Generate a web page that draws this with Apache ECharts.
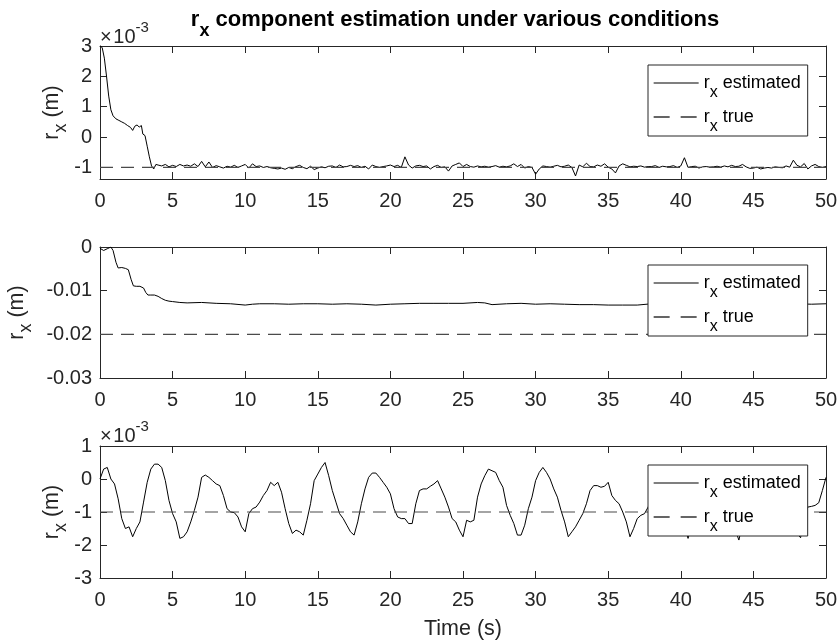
<!DOCTYPE html>
<html><head><meta charset="utf-8">
<script src="https://cdn.jsdelivr.net/npm/echarts@6/dist/echarts.min.js"></script>
<style>html,body{margin:0;padding:0;background:#fff}#c{width:838px;height:643px}</style>
</head><body><div id="c"></div>
<script>
// ---------- data ----------
const xTickLabels = [0, 5, 10, 15, 20, 25, 30, 35, 40, 45, 50];
const topYTicks = [3, 2, 1, 0, -1];          // ×10^-3
const midYTicks = [0, -0.01, -0.02, -0.03];
const botYTicks = [1, 0, -1, -2, -3];        // ×10^-3

const topTrue = -1;      // ×10^-3
const midTrue = -0.02;
const botTrue = -1;      // ×10^-3

// top panel (values ×10^-3)
const topTimesEarly = [0, 0.15, 0.3, 0.45, 0.6, 0.75, 0.9, 1.1, 1.3, 1.5, 1.7, 1.9, 2.1, 2.25, 2.4, 2.55, 2.7, 2.85, 2.95, 3.1, 3.25, 3.4, 3.55, 3.7, 3.85];
const topEstEarly = [3.0, 2.95, 2.6, 2.0, 1.35, 0.9, 0.7, 0.6, 0.55, 0.5, 0.45, 0.38, 0.32, 0.22, 0.36, 0.4, 0.33, 0.38, 0.1, 0.05, -0.3, -0.65, -0.95, -1.05, -0.9];
const topEstLate = [ // t = 4 .. 50, step 0.25
 -0.92,-0.95,-0.9,-0.98,  -0.93,-0.97,-0.9,-0.95,  -0.92,-0.96,-0.88,-0.97,  -0.8,-0.98,-0.82,-1.0,
 -0.94,-0.98,-1.02,-0.96, -0.99,-0.93,-1.0,-0.95,  -0.9,-1.02,-0.88,-0.97,   -0.95,-1.0,-0.97,-1.01,
 -1.03,-1.05,-1.02,-1.06, -1.0,-1.04,-0.97,-0.93,  -1.0,-1.04,-0.96,-1.07,   -1.02,-0.98,-1.01,-0.96,
 -0.95,-1.0,-0.92,-0.98,  -0.97,-0.93,-0.97,-0.94, -1.0,-0.96,-1.05,-0.92,   -0.97,-1.0,-0.97,-0.95,
 -0.92,-0.97,-0.93,-1.0,  -0.65,-0.92,-1.02,-0.95, -0.93,-0.97,-0.95,-1.05,  -0.97,-0.93,-1.0,-0.98,
 -1.12,-0.95,-0.9,-0.85,  -0.97,-0.9,-0.97,-0.99,  -0.95,-0.98,-0.96,-0.99,  -0.97,-0.94,-0.99,-0.96,
 -0.98,-0.95,-0.88,-0.97, -0.9,-1.02,-0.97,-1.0,   -1.22,-1.05,-0.95,-0.97,  -0.99,-0.96,-0.93,-0.98,
 -0.96,-0.92,-1.0,-1.28,  -0.92,-0.98,-0.86,-0.97, -0.98,-0.92,-0.96,-0.88,  -0.99,-1.05,-1.18,-0.95,
 -0.88,-0.93,-0.98,-0.96, -0.97,-0.95,-0.99,-0.97, -0.97,-0.94,-1.0,-0.96,   -0.98,-0.97,-0.94,-1.0,
 -0.95,-0.68,-1.0,-0.97,  -0.96,-1.02,-0.98,-0.97, -0.99,-0.98,-0.96,-0.99,  -0.95,-0.98,-0.93,-0.97,
 -0.96,-0.9,-0.98,-1.03,  -1.02,-0.99,-1.05,-1.02, -1.0,-1.02,-0.98,-1.0,    -1.01,-0.95,-0.99,-0.76,
 -0.93,-0.98,-0.87,-1.05, -0.95,-0.9,-0.97,-1.0,
 -0.97
];

// middle panel (m)
const midTimes = [0,0.25,0.5,0.75,0.9,1.1,1.25,1.5,1.75,1.95,2.15,2.3,2.5,2.75,3.0,3.15,3.3,3.5,3.75,4.0,4.25,4.5,4.75,5.0,5.5,6,7,8,9,10,10.5,11,12,13,14,15,16,17,18,19,20,21,22,23,24,25,26,26.5,27,28,29,30,31,32,33,34,35,36,37,38,39,40,41,42,43,44,45,46,47,48,49,50];
const midEst = [-0.0003,-0.0008,-0.0004,0.0,-0.0008,-0.0035,-0.0048,-0.0047,-0.0049,-0.0052,-0.0075,-0.0089,-0.009,-0.009,-0.0094,-0.0104,-0.011,-0.011,-0.011,-0.0113,-0.0118,-0.0122,-0.0124,-0.0125,-0.0127,-0.0128,-0.0127,-0.0129,-0.013,-0.0133,-0.0131,-0.013,-0.013,-0.0131,-0.013,-0.013,-0.0131,-0.013,-0.0131,-0.0133,-0.0131,-0.013,-0.0129,-0.0129,-0.0129,-0.0129,-0.0127,-0.0128,-0.0132,-0.013,-0.0129,-0.0131,-0.013,-0.0131,-0.0132,-0.0132,-0.0133,-0.0133,-0.0133,-0.013,-0.013,-0.0131,-0.013,-0.013,-0.0131,-0.013,-0.013,-0.0131,-0.013,-0.013,-0.0131,-0.013];

// bottom panel (×10^-3), t = 0 .. 50 step 0.25
const botEst = [
 0.0,0.3,0.35,0.0,  -0.15,-0.6,-1.2,-1.5,  -1.45,-1.75,-1.5,-1.3,  -0.7,-0.1,0.3,0.45,
 0.45,0.35,-0.05,-0.65,  -1.05,-1.3,-1.8,-1.75,  -1.6,-1.3,-0.95,-0.55,  0.05,0.12,0.05,-0.05,
 -0.15,-0.2,-0.5,-0.9,  -1.0,-1.02,-1.15,-1.45,  -1.6,-1.05,-0.9,-0.85,  -0.7,-0.5,-0.35,-0.1,
 -0.2,-0.1,-0.4,-0.9,  -1.35,-1.65,-1.55,-1.6,  -1.7,-1.25,-0.75,-0.05,  0.15,0.35,0.5,0.1,
 -0.35,-0.7,-1.05,-1.2,  -1.4,-1.6,-1.7,-1.3,  -0.75,-0.3,0.05,0.18,  0.18,0.05,-0.1,-0.25,
 -0.45,-0.9,-1.15,-1.2,  -1.2,-1.35,-1.35,-0.75,  -0.35,-0.3,-0.3,-0.22,  -0.15,-0.05,-0.3,-0.55,
 -0.85,-1.2,-1.3,-1.55,  -1.75,-1.25,-1.3,-1.25,  -0.55,-0.15,0.1,0.3,  0.25,0.2,-0.05,-0.25,
 -0.8,-1.1,-1.35,-1.7,  -1.7,-1.4,-0.9,-0.55,  -0.05,0.2,0.35,0.2,  0.0,-0.3,-0.55,-0.95,
 -1.3,-1.75,-1.6,-1.45,  -1.25,-1.05,-0.75,-0.35,  -0.2,-0.2,-0.25,-0.22,  -0.1,-0.5,-0.65,-0.75,
 -1.0,-1.3,-1.75,-1.5,  -1.2,-1.1,-1.05,-0.85,  -0.6,-0.35,-0.2,-0.15,  -0.2,-0.35,-0.6,-0.95,
 -1.2,-1.45,-1.8,-1.4,  -1.1,-0.8,-0.5,-0.3,  -0.2,-0.25,-0.35,-0.6,  -0.9,-1.2,-1.45,-1.55,
 -1.85,-1.35,-1.0,-0.7,  -0.45,-0.3,-0.25,-0.3,  -0.4,-0.6,-0.85,-1.1,  -1.3,-1.45,-1.55,-1.6,
 -1.65,-1.78,-1.1,-0.85,  -0.83,-0.8,-0.72,-0.35,
 0.05
];

// ---------- build ----------
function steps(start, n, dt) { const a = []; for (let i = 0; i < n; i++) a.push(+(start + i * dt).toFixed(4)); return a; }
const topTimes = topTimesEarly.concat(steps(4, topEstLate.length, 0.25));
const topEst = topEstEarly.concat(topEstLate);
const botTimes = steps(0, botEst.length, 0.25);
const zip = (t, v) => t.map((x, i) => [x, v[i]]);

const FONT = '"Liberation Sans", Arial, Helvetica, sans-serif';
const AX = '#262626';
const xMin = xTickLabels[0], xMax = xTickLabels[xTickLabels.length - 1];

const grids = [
  { left: 100, top: 46, width: 726, height: 133, outerBoundsMode: 'none', containLabel: false },
  { left: 100, top: 247, width: 726, height: 131, outerBoundsMode: 'none', containLabel: false },
  { left: 100, top: 446, width: 726, height: 132, outerBoundsMode: 'none', containLabel: false }
];
const yRanges = [
  { min: -1.38, max: topYTicks[0], interval: null },
  { min: midYTicks[midYTicks.length - 1], max: midYTicks[0], interval: 0.01 },
  { min: botYTicks[botYTicks.length - 1], max: botYTicks[0], interval: 1 }
];
const yNameGaps = [35, 70, 35];
const intFmt = v => Math.abs(v - Math.round(v)) < 1e-6 ? String(Math.round(v)) : '';
const midFmt = v => String(Math.round(v * 100) / 100);
const yFmts = [intFmt, midFmt, intFmt];

const lineAx = { show: true, onZero: false, lineStyle: { color: AX, width: 1 } };
const tickAx = { show: true, inside: true, length: 7, lineStyle: { color: AX, width: 1 } };
const labelBase = { color: AX, fontSize: 20, fontFamily: FONT };

const xAxis = [], yAxis = [], series = [], legend = [];
const nameRich = {
  m: { fontSize: 21.5, fontFamily: FONT, color: AX, lineHeight: 26 },
  s: { fontSize: 18, fontFamily: FONT, color: AX, lineHeight: 26, padding: [13, 0, 0, 0], verticalAlign: 'top' }
};

grids.forEach((g, i) => {
  xAxis.push({
    type: 'value', gridIndex: i, position: 'bottom', min: xMin, max: xMax, interval: 5,
    axisLine: lineAx, axisTick: tickAx, splitLine: { show: false },
    axisLabel: Object.assign({ margin: 12 }, labelBase),
    name: i === 2 ? 'Time (s)' : '', nameLocation: 'middle', nameGap: 40, nameMoveOverlap: false,
    nameTextStyle: { fontSize: 21.5, fontFamily: FONT, color: AX }
  });
  xAxis.push({
    type: 'value', gridIndex: i, position: 'top', min: xMin, max: xMax, interval: 5,
    axisLine: lineAx, axisTick: tickAx, splitLine: { show: false }, axisLabel: { show: false }
  });
  const yr = yRanges[i];
  const yl = {
    type: 'value', gridIndex: i, position: 'left', min: yr.min, max: yr.max,
    axisLine: lineAx, axisTick: tickAx, splitLine: { show: false },
    axisLabel: Object.assign({ margin: 8, formatter: yFmts[i] }, labelBase),
    name: '{m|r}{s|x}{m| (m)}', nameLocation: 'middle', nameGap: yNameGaps[i], nameRotate: 90, nameMoveOverlap: false,
    nameTextStyle: { rich: nameRich }
  };
  const yr2 = {
    type: 'value', gridIndex: i, position: 'right', min: yr.min, max: yr.max,
    axisLine: lineAx, axisTick: tickAx, splitLine: { show: false }, axisLabel: { show: false }
  };
  if (yr.interval) { yl.interval = yr.interval; yr2.interval = yr.interval; }
  else { yl.splitNumber = 5; yr2.splitNumber = 5; }
  yAxis.push(yl, yr2);
});

const estData = [zip(topTimes, topEst), zip(midTimes, midEst), zip(botTimes, botEst)];
const trueVals = [topTrue, midTrue, botTrue];
estData.forEach((d, i) => {
  series.push({
    name: 'r_x estimated', type: 'line', xAxisIndex: 2 * i, yAxisIndex: 2 * i, data: d,
    symbol: 'none', smooth: false, lineStyle: { color: '#000', width: 1 }, itemStyle: { color: '#000' },
    animation: false, z: 2
  });
  series.push({
    name: 'r_x true', type: 'line', xAxisIndex: 2 * i, yAxisIndex: 2 * i,
    data: [[xMin, trueVals[i]], [xMax, trueVals[i]]],
    symbol: 'none', lineStyle: { color: '#4a4a4a', width: 1.2, type: [13, 8] }, itemStyle: { color: '#4a4a4a' },
    animation: false, z: 3
  });
});

const legendTops = [65, 265, 465];
const legRich = {
  m: { fontSize: 18, fontFamily: FONT, color: '#000', lineHeight: 24 },
  s: { fontSize: 16, fontFamily: FONT, color: '#000', lineHeight: 24, padding: [14, 0, 0, 0], verticalAlign: 'top' }
};
legendTops.forEach(t => legend.push({
  left: 648, top: t, orient: 'vertical', selectedMode: false,
  data: [
    { name: 'r_x estimated', lineStyle: { color: '#000', width: 1.2, type: 'solid', opacity: 1 } },
    { name: 'r_x true', lineStyle: { type: [16, 11], color: '#333', width: 1.3, opacity: 1 } }
  ],
  itemWidth: 45, itemHeight: 14, itemGap: 4, padding: [6, 7, 1, 5],
  borderColor: AX, borderWidth: 1, backgroundColor: '#fff',
  itemStyle: { color: 'transparent', borderColor: 'transparent', borderWidth: 0, opacity: 0 },
  formatter: n => n === 'r_x estimated' ? '{m|r}{s|x}{m| estimated}' : '{m|r}{s|x}{m| true}',
  textStyle: { rich: legRich }
}));

const expRich = {
  m: { fontSize: 20, fontFamily: FONT, fill: AX, lineHeight: 30, padding: [7, 0, 0, 0], verticalAlign: 'top' },
  p: { fontSize: 15, fontFamily: FONT, fill: AX, lineHeight: 30, verticalAlign: 'top' }
};
const graphic = [
  { type: 'text', x: 455, y: 20, style: {
      text: '{m|r}{s|x}{m| component estimation under various conditions}',
      align: 'center', verticalAlign: 'middle',
      rich: {
        m: { fontSize: 22, fontWeight: 'bold', fontFamily: FONT, fill: '#000', lineHeight: 26 },
        s: { fontSize: 18, fontWeight: 'bold', fontFamily: FONT, fill: '#000', lineHeight: 26, padding: [15, 0, 0, 0], verticalAlign: 'top' }
      } } },
  { type: 'text', x: 100, y: 35, style: { text: '{m|×\u200a10}{p|-3}', align: 'left', verticalAlign: 'middle', rich: expRich } },
  { type: 'text', x: 100, y: 434, style: { text: '{m|×\u200a10}{p|-3}', align: 'left', verticalAlign: 'middle', rich: expRich } }
];

const chart = echarts.init(document.getElementById('c'), null, { renderer: 'canvas' });
chart.setOption({
  animation: false,
  backgroundColor: '#fff',
  textStyle: { fontFamily: FONT },
  grid: grids, xAxis, yAxis, series, legend, graphic
});
</script></body></html>
